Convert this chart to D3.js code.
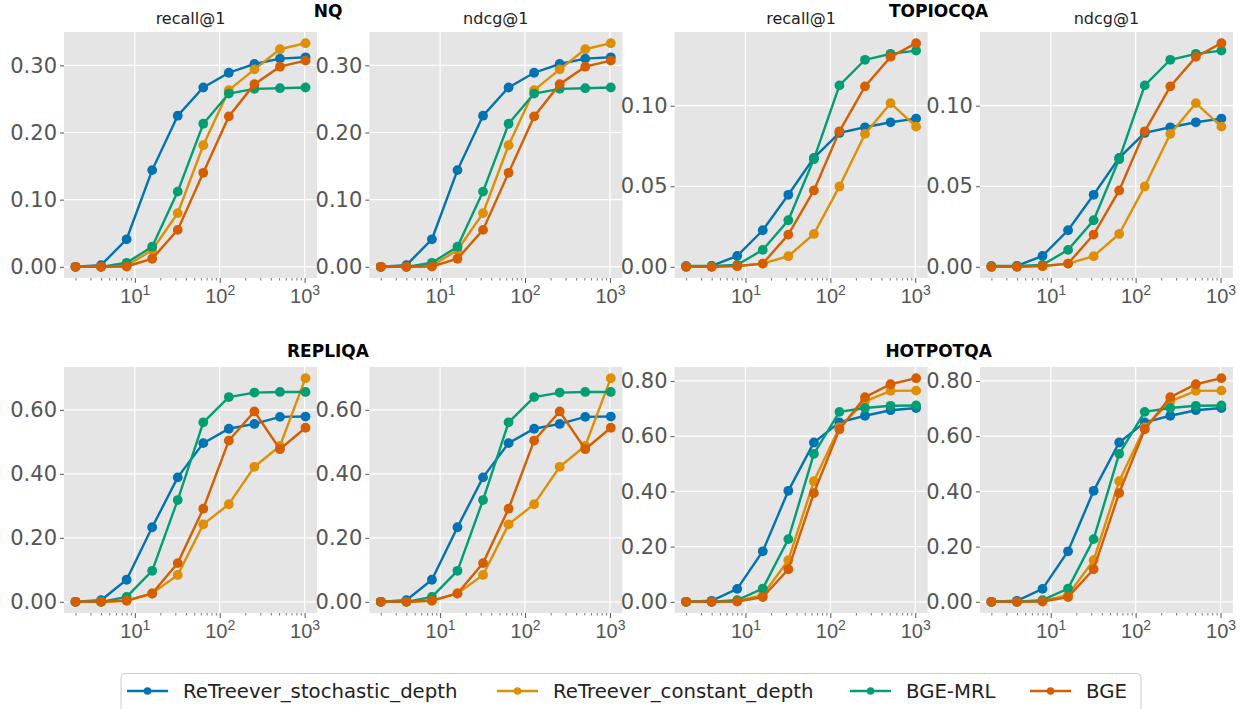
<!DOCTYPE html>
<html>
<head>
<meta charset="utf-8">
<script src="https://cdn.jsdelivr.net/npm/d3@7"></script>
<style>
  body { margin: 0; background: #fff; }
  svg { display: block; font-family: "DejaVu Sans", sans-serif; }
</style>
</head>
<body>
<div id="chart"></div>
<script>
// DATA
const xVals = [2, 4, 8, 16, 32, 64, 128, 256, 512, 1024];
const methods = ["ReTreever_stochastic_depth", "ReTreever_constant_depth", "BGE-MRL", "BGE"];
const metrics = ["recall@1", "ndcg@1"];
const datasets = ["NQ", "TOPIOCQA", "REPLIQA", "HOTPOTQA"];

const nqStochastic = [0, 0.0025, 0.041, 0.144, 0.225, 0.267, 0.289, 0.302, 0.310, 0.312];
const nqConstant   = [0, 0, 0.0015, 0.025, 0.080, 0.181, 0.263, 0.294, 0.324, 0.333];
const nqMrl        = [0, 0, 0.006, 0.030, 0.112, 0.213, 0.258, 0.265, 0.266, 0.267];
const nqBge        = [0, 0, 0.0005, 0.012, 0.055, 0.140, 0.224, 0.272, 0.298, 0.307];

const topStochastic = [0, 0.0006, 0.0068, 0.0227, 0.0447, 0.0676, 0.0831, 0.0866, 0.0897, 0.092];
const topConstant   = [0, 0, 0.0006, 0.002, 0.0066, 0.0204, 0.0499, 0.0825, 0.1016, 0.087];
const topMrl        = [0.0006, 0.0006, 0.0012, 0.0105, 0.0289, 0.0668, 0.1126, 0.1285, 0.1322, 0.1342];
const topBge        = [0, 0, 0.0004, 0.002, 0.020, 0.0474, 0.0841, 0.112, 0.1303, 0.1388];

const repStochastic = [0, 0.005, 0.069, 0.233, 0.389, 0.496, 0.541, 0.556, 0.578, 0.579];
const repConstant   = [0, 0, 0.003, 0.026, 0.084, 0.242, 0.305, 0.422, 0.487, 0.699];
const repMrl        = [0, 0, 0.0155, 0.097, 0.318, 0.561, 0.640, 0.654, 0.656, 0.656];
const repBge        = [0, 0, 0.004, 0.026, 0.121, 0.291, 0.504, 0.595, 0.477, 0.544];

const hotStochastic = [0, 0.0036, 0.047, 0.183, 0.402, 0.577, 0.650, 0.674, 0.694, 0.702];
const hotConstant   = [0, 0, 0.0024, 0.025, 0.151, 0.437, 0.632, 0.726, 0.764, 0.765];
const hotMrl        = [0, 0, 0.006, 0.048, 0.227, 0.536, 0.688, 0.702, 0.710, 0.711];
const hotBge        = [0, 0, 0.0012, 0.017, 0.118, 0.394, 0.625, 0.741, 0.788, 0.810];

const nqTicks  = [0, 0.1, 0.2, 0.3];
const topTicks = [0, 0.05, 0.1];
const repTicks = [0, 0.2, 0.4, 0.6];
const hotTicks = [0, 0.2, 0.4, 0.6, 0.8];
const xMajorTicks = [10, 100, 1000];

// LAYOUT
const width = 1247;
const height = 709;
const panelW = 253;
const panelH = 246;
const panelStep = 305.3;
const firstLeft = 64;
const rowTops = [32, 367];
const groupTitleOffset = [15, 10];

const colors = ["#0173b2", "#de8f05", "#029e73", "#d55e00"];
const bgColor = "#e5e5e5";
const tickColor = "#555555";

const svg = d3.select("#chart")
    .append("svg")
        .attr("width", width)
        .attr("height", height)
        .attr("viewBox", [0, 0, width, height]);

const groups = [
    { name: datasets[0], series: [nqStochastic, nqConstant, nqMrl, nqBge], ticks: nqTicks, row: 0, col: 0 },
    { name: datasets[1], series: [topStochastic, topConstant, topMrl, topBge], ticks: topTicks, row: 0, col: 2 },
    { name: datasets[2], series: [repStochastic, repConstant, repMrl, repBge], ticks: repTicks, row: 1, col: 0 },
    { name: datasets[3], series: [hotStochastic, hotConstant, hotMrl, hotBge], ticks: hotTicks, row: 1, col: 2 }
];

// matplotlib-like 5% margins (log space on x)
const lx0 = Math.log10(d3.min(xVals)), lx1 = Math.log10(d3.max(xVals));
const lpad = (lx1 - lx0) * 0.05;
const xDomain = [Math.pow(10, lx0 - lpad), Math.pow(10, lx1 + lpad)];

// minor ticks 2..9 x 10^k inside the domain
const minorTicks = [];
for (let k = 0; k <= 3; k++) {
    for (let m = 2; m <= 9; m++) {
        const v = m * Math.pow(10, k);
        if (v >= xDomain[0] && v <= xDomain[1]) minorTicks.push(v);
    }
}

groups.forEach(g => {
    const all = g.series.flat();
    const yMin = d3.min(all), yMax = d3.max(all);
    const pad = (yMax - yMin) * 0.05;
    const yDomain = [yMin - pad, yMax + pad];

    metrics.forEach((metric, mi) => {
        const left = firstLeft + (g.col + mi) * panelStep;
        const top = rowTops[g.row];

        const x = d3.scaleLog().domain(xDomain).range([left, left + panelW]);
        const y = d3.scaleLinear().domain(yDomain).range([top + panelH, top]);

        const p = svg.append("g").attr("class", "panel");

        p.append("rect")
            .attr("x", left)
            .attr("y", top)
            .attr("width", panelW)
            .attr("height", panelH)
            .attr("fill", bgColor);

        // grid
        p.selectAll(".gy")
            .data(g.ticks)
            .enter()
            .append("line")
                .attr("x1", left)
                .attr("x2", left + panelW)
                .attr("y1", d => y(d))
                .attr("y2", d => y(d))
                .attr("stroke", "#fff")
                .attr("stroke-width", 1.2);
        p.selectAll(".gx")
            .data(xMajorTicks)
            .enter()
            .append("line")
                .attr("x1", d => x(d))
                .attr("x2", d => x(d))
                .attr("y1", top)
                .attr("y2", top + panelH)
                .attr("stroke", "#fff")
                .attr("stroke-width", 1.2);

        // y axis
        const yAxis = d3.axisLeft(y)
            .tickValues(g.ticks)
            .tickFormat(d3.format(".2f"))
            .tickSize(4)
            .tickPadding(3);
        const ya = p.append("g")
            .attr("transform", `translate(${left},0)`)
            .call(yAxis);
        ya.select(".domain").remove();
        ya.selectAll("line").attr("stroke", tickColor);
        ya.selectAll("text")
            .attr("fill", tickColor)
            .style("font-size", "21px")
            .style("font-family", "DejaVu Sans");

        // x axis: major
        const xAxis = d3.axisBottom(x)
            .tickValues(xMajorTicks)
            .tickFormat("")
            .tickSize(5);
        const xa = p.append("g")
            .attr("transform", `translate(0,${top + panelH})`)
            .call(xAxis);
        xa.select(".domain").remove();
        xa.selectAll("line").attr("stroke", tickColor);
        xa.selectAll(".tick")
            .append("text")
                .attr("fill", tickColor)
                .attr("text-anchor", "middle")
                .attr("y", 25)
                .style("font-size", "20px")
                .each(function(d) {
                    const t = d3.select(this);
                    t.append("tspan").text("10");
                    t.append("tspan")
                        .attr("dy", -8)
                        .style("font-size", "14px")
                        .text(Math.round(Math.log10(d)));
                });

        // x axis: minor
        const xMinor = d3.axisBottom(x)
            .tickValues(minorTicks)
            .tickFormat("")
            .tickSize(2.5);
        const xm = p.append("g")
            .attr("transform", `translate(0,${top + panelH})`)
            .call(xMinor);
        xm.select(".domain").remove();
        xm.selectAll("line").attr("stroke", tickColor).attr("stroke-width", 0.8);

        // lines + markers
        const line = d3.line()
            .x((d, i) => x(xVals[i]))
            .y(d => y(d));

        g.series.forEach((s, si) => {
            p.append("path")
                .datum(s)
                .attr("d", line)
                .attr("fill", "none")
                .attr("stroke", colors[si])
                .attr("stroke-width", 2.4);
            p.selectAll(".m" + si)
                .data(s)
                .enter()
                .append("circle")
                    .attr("cx", (d, i) => x(xVals[i]))
                    .attr("cy", d => y(d))
                    .attr("r", 4.9)
                    .attr("fill", colors[si]);
        });

        // subplot title (top row only)
        if (g.row === 0) {
            p.append("text")
                .attr("x", left + panelW / 2)
                .attr("y", top - 8)
                .attr("text-anchor", "middle")
                .attr("fill", "#222")
                .style("font-size", "16px")
                .text(metric);
        }
    });

    // dataset title
    const leftA = firstLeft + g.col * panelStep;
    svg.append("text")
        .attr("x", leftA + panelW + 11)
        .attr("y", rowTops[g.row] - groupTitleOffset[g.row])
        .attr("text-anchor", "middle")
        .attr("font-weight", "bold")
        .attr("fill", "#000")
        .style("font-size", "17px")
        .text(g.name);
});

// legend
const legendX = [127, 497, 850, 1030];
const legend = svg.append("g").attr("class", "legend");
legend.append("rect")
    .attr("x", 121)
    .attr("y", 673.5)
    .attr("width", 1020)
    .attr("height", 38)
    .attr("rx", 4)
    .attr("fill", "#fff")
    .attr("stroke", "#cccccc");

methods.forEach((m, i) => {
    const lg = legend.append("g").attr("transform", `translate(${legendX[i]},691)`);
    lg.append("line")
        .attr("x1", 0).attr("x2", 41)
        .attr("stroke", colors[i])
        .attr("stroke-width", 2.4);
    lg.append("circle")
        .attr("cx", 20.5).attr("r", 3.8)
        .attr("fill", colors[i]);
    lg.append("text")
        .attr("x", 56)
        .attr("dy", "0.35em")
        .attr("fill", "#222")
        .style("font-size", "19.7px")
        .text(m);
});
</script>
</body>
</html>
